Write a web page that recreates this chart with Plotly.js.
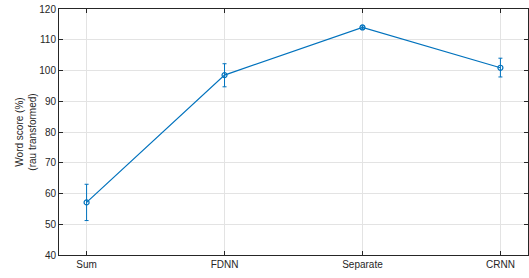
<!DOCTYPE html>
<html><head><meta charset="utf-8">
<script src="https://cdn.plot.ly/plotly-3.0.1.min.js"></script>
<style>body{margin:0;padding:0;}#chart{width:529px;height:278px;}</style>
</head><body><div id="chart"></div>
<script>
const categories = ["Sum", "FDNN", "Separate", "CRNN"];
const scores = [57.1, 98.5, 114.0, 100.9];
const errUpper = [5.9, 3.7, 0.5, 3.1];
const errLower = [5.9, 3.8, 0.5, 3.0];
const yTicks = [40, 50, 60, 70, 80, 90, 100, 110, 120];

const trace = {
  x: categories.map((c, i) => i),
  y: scores,
  type: 'scatter',
  mode: 'lines+markers',
  line: {color: '#0072BD', width: 1.2},
  marker: {symbol: 'circle-open', size: 5, color: '#0072BD', line: {width: 1.2}},
  error_y: {type: 'data', symmetric: false, array: errUpper, arrayminus: errLower,
            color: '#0072BD', thickness: 1, width: 2},
  hoverinfo: 'skip'
};

const axisCommon = {
  showline: true, mirror: 'ticks', linecolor: '#262626', linewidth: 1,
  ticks: 'inside', ticklen: 4, tickcolor: '#262626',
  showgrid: true, gridcolor: '#e3e3e3', gridwidth: 1, zeroline: false,
  tickfont: {family: 'Liberation Sans, Arial, sans-serif', size: 10, color: '#262626'}
};

const layout = {
  width: 529, height: 278,
  margin: {l: 59, r: 1, t: 9, b: 23},
  paper_bgcolor: '#ffffff', plot_bgcolor: '#ffffff',
  showlegend: false,
  xaxis: Object.assign({}, axisCommon, {
    range: [-0.2, 3.2], tickmode: 'array',
    tickvals: categories.map((c, i) => i), ticktext: categories
  }),
  yaxis: Object.assign({}, axisCommon, {
    range: [40, 120], tickmode: 'array', tickvals: yTicks,
    ticktext: yTicks.map(String),
    title: {text: 'Word score (%)<br>(rau transformed)', standoff: 0,
            font: {family: 'Liberation Sans, Arial, sans-serif', size: 10, color: '#262626'}}
  })
};

Plotly.newPlot('chart', [trace], layout, {displayModeBar: false, staticPlot: true});
</script>
</body></html>
